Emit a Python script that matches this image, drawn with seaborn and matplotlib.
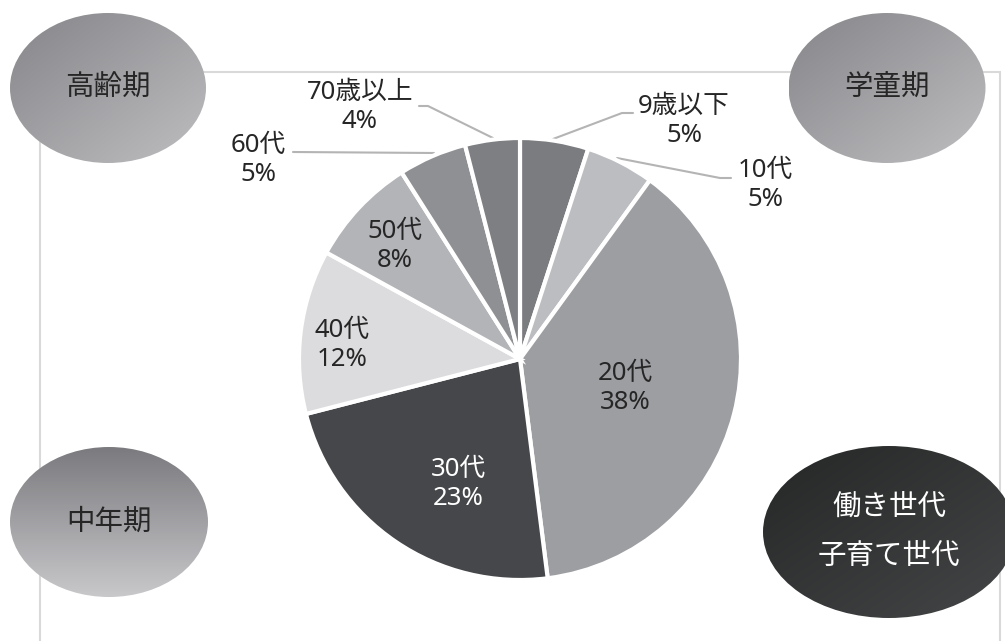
import numpy as np
import seaborn as sns
import matplotlib.pyplot as plt
from matplotlib.patches import Ellipse
from matplotlib.colors import LinearSegmentedColormap

sns.set_theme(style='white')
plt.rcParams['font.family'] = ['Noto Sans', 'Noto Sans CJK JP', 'DejaVu Sans']

# data (percent by age group, clockwise from the top)
ages = ['9歳以下', '10代', '20代', '30代', '40代', '50代', '60代', '70歳以上']
shares = [5, 5, 38, 23, 12, 8, 5, 4]
colors = sns.color_palette(['#7b7c80', '#bcbdc1', '#9d9ea2', '#46474a',
                            '#dcdcde', '#b3b4b8', '#8f9094', '#7e7f83'])

# life stage bubbles
stages = ['高齢期', '学童期', '中年期', '働き世代\n子育て世代']

W, H = 1005, 641
fig = plt.figure(figsize=(W / 100, H / 100), dpi=100)
ax = fig.add_axes([0, 0, 1, 1])

def py(y):
    # pixel row (top down) -> data y
    return H - y

# light frame
fc = '#d9d9d9'
ax.plot([40, 1000], [py(72), py(72)], color=fc, lw=1.5, zorder=1)
ax.plot([40, 40], [py(72), 0], color=fc, lw=1.5, zorder=1)
ax.plot([1000, 1000], [py(72), 0], color=fc, lw=1.5, zorder=1)

# pie
cx, cy, r = 520, py(359), 221
wedges, _ = ax.pie(shares, colors=colors, startangle=90, counterclock=False,
                   center=(cx, cy), radius=r, frame=True,
                   wedgeprops=dict(edgecolor='white', linewidth=3))
for w in wedges:
    w.set_zorder(3)

labels = [f'{a}\n{s}%' for a, s in zip(ages, shares)]
txt = '#262626'
fs = 18.5

# inside labels
inside = {2: (625, 388), 3: (458, 484), 4: (342, 345), 5: (395, 246)}
for i, (x, y) in inside.items():
    ax.text(x, py(y), labels[i], ha='center', va='center', fontsize=fs,
            color='white' if i == 3 else txt, linespacing=1.2, zorder=5)

# outside labels with leader lines
lc = '#b4b4b4'
outside = {
    0: ((684, 121), [(553, 139), (622, 113), (633, 113)]),
    1: ((765, 185), [(617, 158), (720, 178), (731, 178)]),
    6: ((258, 160), [(434, 153), (293, 152)]),
    7: ((360, 107), [(493, 138), (428, 106), (419, 106)]),
}
for i, ((x, y), pts) in outside.items():
    xs = [p[0] for p in pts]
    ys = [py(p[1]) for p in pts]
    ax.plot(xs, ys, color=lc, lw=1.5, zorder=2)
    ax.text(x, py(y), labels[i], ha='center', va='center', fontsize=fs,
            color=txt, linespacing=1.2, zorder=5)

# gradient bubbles
def bubble(x, y, w, h, c0, c1, direction, text, tcolor):
    cmap = LinearSegmentedColormap.from_list('g', [c0, c1])
    gx, gy = np.meshgrid(np.linspace(0, 1, 200), np.linspace(0, 1, 200))
    g = (gx + gy) / 2 if direction == 'diag' else gy
    yc = py(y)
    e = Ellipse((x, yc), w, h, facecolor='none', edgecolor='none', zorder=6)
    ax.add_patch(e)
    im = ax.imshow(g, cmap=cmap, extent=[x - w / 2, x + w / 2, yc - h / 2, yc + h / 2],
                   origin='upper', zorder=6, interpolation='bilinear', aspect='auto')
    im.set_clip_path(e)
    ax.text(x, yc, text, ha='center', va='center', fontsize=20.5, color=tcolor,
            linespacing=1.9, zorder=7)

bubble(108, 88, 196, 150, '#86868a', '#bebec1', 'diag', stages[0], txt)
bubble(887, 88, 197, 150, '#86868a', '#bebec1', 'diag', stages[1], txt)
bubble(109, 522, 198, 150, '#7b7b7f', '#c8c8cb', 'vert', stages[2], txt)
bubble(889, 532, 252, 172, '#252626', '#454647', 'diag', stages[3], 'white')

ax.set_xlim(0, W)
ax.set_ylim(0, H)
ax.set_aspect('equal')
ax.axis('off')
fig.savefig('out.png', dpi=100)
